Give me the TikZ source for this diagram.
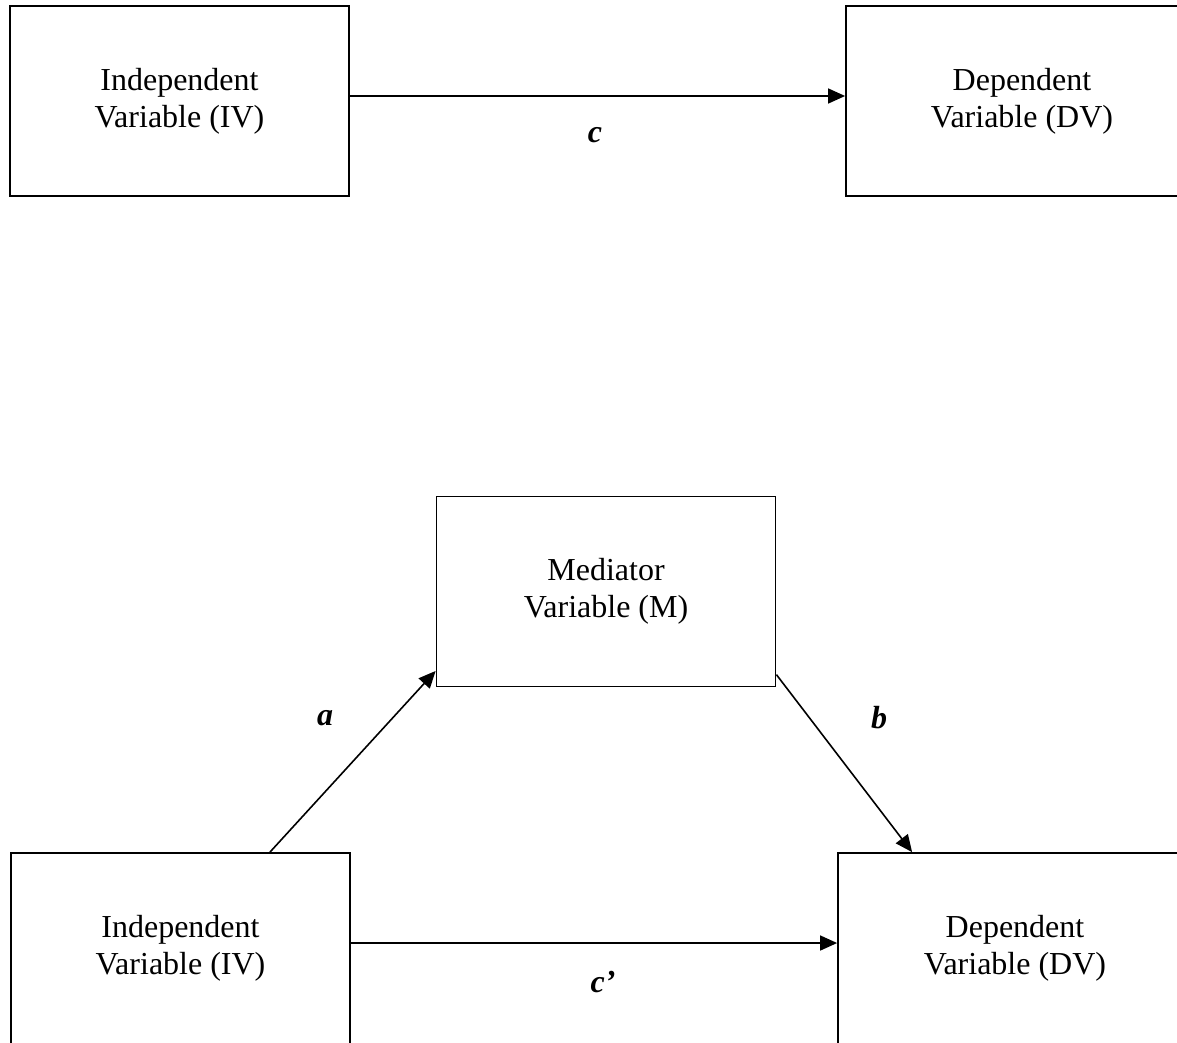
\documentclass[tikz,border=0pt]{standalone}
\usepackage{fontspec}
\setmainfont{Liberation Serif}
\usetikzlibrary{arrows.meta}
\tikzset{
  varbox/.style={draw, line width=1.8pt, minimum width=339pt, minimum height=190pt,
    inner sep=0pt, align=center, font=\fontsize{32}{37}\selectfont},
  lowbox/.style={varbox, minimum height=204pt, text depth=21pt},
  effect/.style={-{Triangle[length=17pt,width=15pt]}, line width=1.6pt},
  coef/.style={font=\fontsize{32}{37}\selectfont\bfseries\itshape}
}
\begin{document}
\begin{tikzpicture}[x=1pt,y=-1pt]
  \useasboundingbox (0,0) rectangle (1177,1042);
  \clip (0,0) rectangle (1177,1042);
  % total effect
  \node[varbox] (iv1) at (179.5,101) {Independent\\Variable (IV)};
  \node[varbox, minimum width=352pt] (dv1) at (1022,101) {Dependent\\Variable (DV)};
  \draw[effect] ([yshift=5pt]iv1.east) -- ([yshift=5pt]dv1.west);
  \node[coef] (c) at (595,135) {c};
  % mediated effect
  \node[varbox] (med) at (606,591.5) {Mediator\\Variable (M)};
  \node[lowbox] (iv2) at (180.5,955) {Independent\\Variable (IV)};
  \node[lowbox, minimum width=354pt] (dv2) at (1015,955) {Dependent\\Variable (DV)};
  \draw[effect] (iv2.49.7) -- (med.205.6);
  \draw[effect] (med.334.7) -- (dv2.135.3);
  \draw[effect] ([yshift=12pt]iv2.east) -- ([yshift=12pt]dv2.west);
  \node[coef] (a) at (325,718) {a};
  \node[coef] (b) at (879,718) {b};
  \node[coef] (cp) at (603,982) {c’};
\end{tikzpicture}
\end{document}
